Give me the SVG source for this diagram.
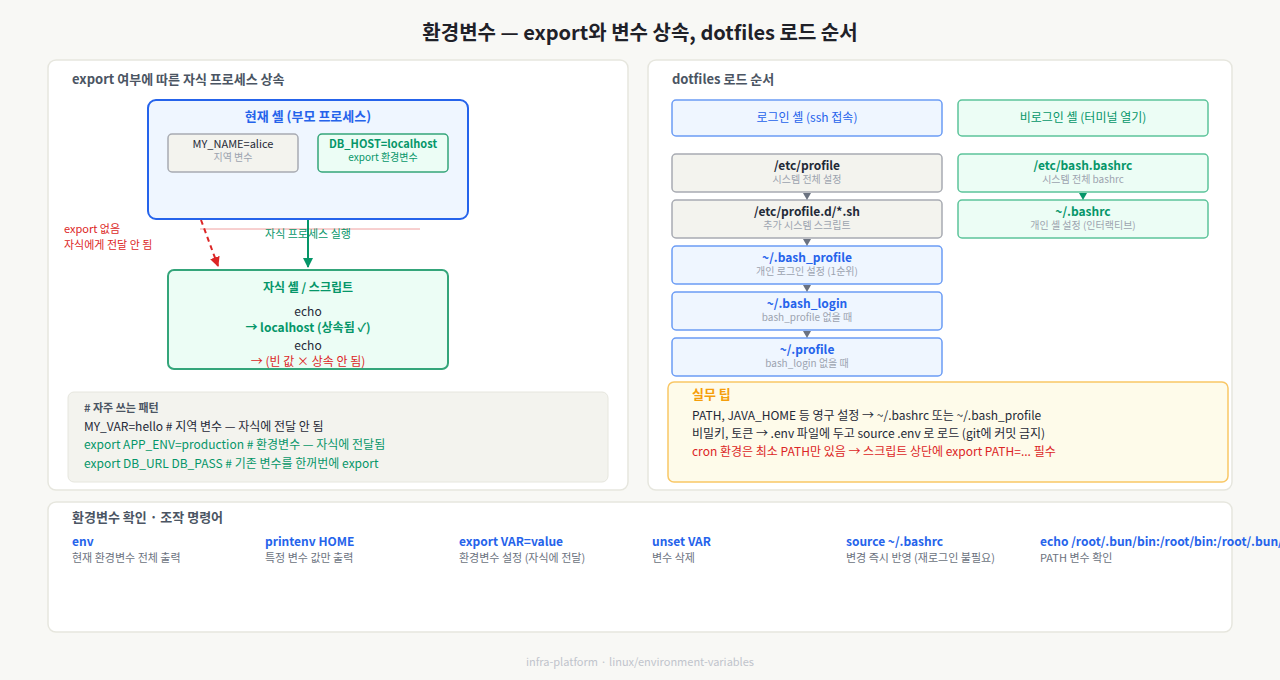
<svg xmlns="http://www.w3.org/2000/svg" width="1280" height="680" viewBox="0 0 1280 680">
<defs>
<style>
text{font-family:"Noto Sans CJK KR","Noto Sans",sans-serif;}
.panel{fill:#ffffff;stroke:#e6e6de;stroke-width:1.5;}
.ptitle{font-size:13px;font-weight:700;fill:#4b5563;}
.c{text-anchor:middle;}
.b{font-weight:700;}
.blue{fill:#2563eb;}
.green{fill:#059669;}
.red{fill:#dc2626;}
.dark{fill:#1f2937;}
.gray{fill:#9ca3af;}
.mgray{fill:#6b7280;}
.s11{font-size:11px;}
.s12{font-size:12px;}
.s10{font-size:10px;}
.bluebox{fill:#eff6ff;stroke:#6b9cf5;stroke-width:1.5;}
.greenbox{fill:#ecfdf5;stroke:#5cc49a;stroke-width:1.5;}
.graybox{fill:#f3f3ee;stroke:#a8abb2;stroke-width:1.5;}
</style>
<marker id="ag" viewBox="0 0 10 10" refX="9" refY="5" markerWidth="5" markerHeight="5" orient="auto"><path d="M0,0 L10,5 L0,10 z" fill="#059669"/></marker>
<marker id="ar" viewBox="0 0 10 10" refX="9" refY="5" markerWidth="5" markerHeight="5" orient="auto"><path d="M0,0 L10,5 L0,10 z" fill="#dc2626"/></marker>
</defs>
<rect width="1280" height="680" fill="#f8f8f5"/>
<text x="640" y="40" class="c b" font-size="20" fill="#1f2128">환경변수 — export와 변수 상속, dotfiles 로드 순서</text>

<!-- Left panel -->
<g id="panel-left">
<rect x="48" y="60" width="580" height="430" rx="8" class="panel"/>
<text x="72" y="84" class="ptitle">export 여부에 따른 자식 프로세스 상속</text>
</g>
<g id="parent-shell">
<rect x="148" y="100" width="320" height="119" rx="8" fill="#eff6ff" stroke="#2563eb" stroke-width="2"/>
<text x="308" y="121" class="c b blue" font-size="13">현재 셸 (부모 프로세스)</text>
</g>
<g id="var-local">
<rect x="168" y="134" width="130" height="38" rx="4" class="graybox"/>
<text x="233" y="148" class="c s11 dark">MY_NAME=alice</text>
<text x="233" y="161" class="c s10 gray">지역 변수</text>
</g>
<g id="var-export">
<rect x="318" y="134" width="130" height="38" rx="4" fill="#ecfdf5" stroke="#34a57a" stroke-width="1.5"/>
<text x="383" y="148" class="c s11 b green">DB_HOST=localhost</text>
<text x="383" y="161" class="c s10 green">export 환경변수</text>
</g>
<g id="child-shell">
<rect x="168" y="270" width="280" height="99" rx="6" fill="#ecfdf5" stroke="#34a57a" stroke-width="2"/>
<text x="308" y="292" class="c s12 b green">자식 셸 / 스크립트</text>
<text x="308" y="316" class="c s12 dark">echo</text>
<text x="308" y="332" class="c s12 b green">→ localhost (상속됨 ✓)</text>
<text x="308" y="350" class="c s12 dark">echo</text>
<text x="308" y="366" class="c s12 red">→ (빈 값 × 상속 안 됨)</text>
</g>
<g id="connectors-left">
<line x1="200" y1="229" x2="420" y2="229" stroke="#f0a0a0" stroke-width="1"/>
<line x1="201" y1="220" x2="218" y2="266" stroke="#dc2626" stroke-width="2" stroke-dasharray="5,4" marker-end="url(#ar)"/>
<line x1="308" y1="220" x2="308" y2="267" stroke="#059669" stroke-width="2" marker-end="url(#ag)"/>
<text x="308" y="238" class="c s11 green">자식 프로세스 실행</text>
<text x="64" y="233" class="s11 red">export 없음</text>
<text x="64" y="249" class="s11 red">자식에게 전달 안 됨</text>
</g>
<g id="code-box">
<rect x="68" y="392" width="540" height="90" rx="6" fill="#f3f3ee" stroke="#e6e6de" stroke-width="1"/>
<text x="84" y="412" class="s11 b" fill="#4b5563"># 자주 쓰는 패턴</text>
<text x="84" y="431" class="s12 dark">MY_VAR=hello # 지역 변수 — 자식에 전달 안 됨</text>
<text x="84" y="449" class="s12 green">export APP_ENV=production # 환경변수 — 자식에 전달됨</text>
<text x="84" y="468" class="s12 green">export DB_URL DB_PASS # 기존 변수를 한꺼번에 export</text>
</g>

<!-- Right panel -->
<g id="panel-right">
<rect x="648" y="60" width="584" height="430" rx="8" class="panel"/>
<text x="672" y="84" class="ptitle">dotfiles 로드 순서</text>
</g>
<g id="login-header">
<rect x="672" y="100" width="270" height="36" rx="4" class="bluebox"/>
<text x="807" y="122" class="c s12 blue">로그인 셸 (ssh 접속)</text>
</g>
<g id="nonlogin-header">
<rect x="958" y="100" width="250" height="36" rx="4" class="greenbox"/>
<text x="1083" y="122" class="c s12 green">비로그인 셸 (터미널 열기)</text>
</g>
<g id="etc-profile">
<rect x="672" y="154" width="270" height="38" rx="4" class="graybox"/>
<text x="807" y="170" class="c s12 b dark">/etc/profile</text>
<text x="807" y="183" class="c s10 gray">시스템 전체 설정</text>
</g>
<g id="etc-profile-d">
<rect x="672" y="200" width="270" height="38" rx="4" class="graybox"/>
<text x="807" y="216" class="c s12 b dark">/etc/profile.d/*.sh</text>
<text x="807" y="229" class="c s10 gray">추가 시스템 스크립트</text>
</g>
<g id="bash-profile">
<rect x="672" y="246" width="270" height="38" rx="4" class="bluebox"/>
<text x="807" y="262" class="c s12 b blue">~/.bash_profile</text>
<text x="807" y="275" class="c s10 gray">개인 로그인 설정 (1순위)</text>
</g>
<g id="bash-login">
<rect x="672" y="292" width="270" height="38" rx="4" class="bluebox"/>
<text x="807" y="308" class="c s12 b blue">~/.bash_login</text>
<text x="807" y="321" class="c s10 gray">bash_profile 없을 때</text>
</g>
<g id="profile">
<rect x="672" y="338" width="270" height="38" rx="4" class="bluebox"/>
<text x="807" y="354" class="c s12 b blue">~/.profile</text>
<text x="807" y="367" class="c s10 gray">bash_login 없을 때</text>
</g>
<g id="etc-bashrc">
<rect x="958" y="154" width="250" height="38" rx="4" class="greenbox"/>
<text x="1083" y="170" class="c s12 b green">/etc/bash.bashrc</text>
<text x="1083" y="183" class="c s10 gray">시스템 전체 bashrc</text>
</g>
<g id="bashrc">
<rect x="958" y="200" width="250" height="38" rx="4" class="greenbox"/>
<text x="1083" y="216" class="c s12 b green">~/.bashrc</text>
<text x="1083" y="229" class="c s10 gray">개인 셸 설정 (인터랙티브)</text>
</g>
<g id="connectors-right">
<path d="M803,193 L811,193 L807,200 z" fill="#6b7280"/>
<path d="M803,239 L811,239 L807,246 z" fill="#6b7280"/>
<path d="M803,285 L811,285 L807,292 z" fill="#6b7280"/>
<path d="M803,331 L811,331 L807,338 z" fill="#6b7280"/>
<path d="M1079,193 L1087,193 L1083,200 z" fill="#059669"/>
</g>
<g id="tips">
<rect x="668" y="382" width="560" height="100" rx="6" fill="#fefbea" stroke="#f9c766" stroke-width="1.5"/>
<text x="692" y="399" class="b" font-size="13" fill="#f59e0b">실무 팁</text>
<text x="692" y="420" class="s12 dark">PATH, JAVA_HOME 등 영구 설정 → ~/.bashrc 또는 ~/.bash_profile</text>
<text x="692" y="438" class="s12 dark">비밀키, 토큰 → .env 파일에 두고 source .env 로 로드 (git에 커밋 금지)</text>
<text x="692" y="456" class="s12 red">cron 환경은 최소 PATH만 있음 → 스크립트 상단에 export PATH=... 필수</text>
</g>

<!-- Bottom panel -->
<g id="panel-bottom">
<rect x="48" y="502" width="1184" height="130" rx="8" class="panel"/>
<text x="72" y="522" class="ptitle">환경변수 확인 · 조작 명령어</text>
</g>
<g id="cmd-env">
<text x="72" y="546" class="s12 b blue">env</text>
<text x="72" y="562" class="s11 mgray">현재 환경변수 전체 출력</text>
</g>
<g id="cmd-printenv">
<text x="265" y="546" class="s12 b blue">printenv HOME</text>
<text x="265" y="562" class="s11 mgray">특정 변수 값만 출력</text>
</g>
<g id="cmd-export">
<text x="459" y="546" class="s12 b blue">export VAR=value</text>
<text x="459" y="562" class="s11 mgray">환경변수 설정 (자식에 전달)</text>
</g>
<g id="cmd-unset">
<text x="652" y="546" class="s12 b blue">unset VAR</text>
<text x="652" y="562" class="s11 mgray">변수 삭제</text>
</g>
<g id="cmd-source">
<text x="846" y="546" class="s12 b blue">source ~/.bashrc</text>
<text x="846" y="562" class="s11 mgray">변경 즉시 반영 (재로그인 불필요)</text>
</g>
<g id="cmd-echo">
<text x="1040" y="546" class="s12 b blue">echo /root/.bun/bin:/root/bin:/root/.bun/</text>
<text x="1040" y="562" class="s11 mgray">PATH 변수 확인</text>
</g>
<text x="640" y="666" class="c s11" fill="#c0c4cc">infra-platform · linux/environment-variables</text>
</svg>
